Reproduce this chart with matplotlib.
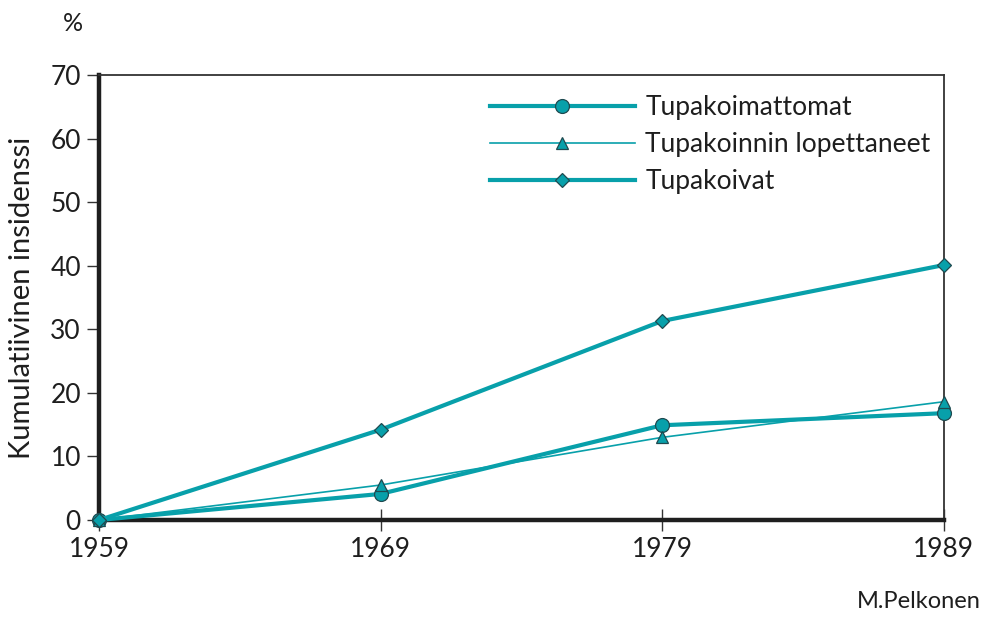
import matplotlib
matplotlib.use("Agg")
import matplotlib.pyplot as plt

plt.rcParams['font.family'] = ['Lato', 'DejaVu Sans']

years = [1959, 1969, 1979, 1989]
tupakoimattomat = [0, 4.1, 14.9, 16.8]
lopettaneet = [0, 5.5, 13.0, 18.6]
tupakoivat = [0, 14.2, 31.3, 40.1]
yticks = [0, 10, 20, 30, 40, 50, 60, 70]

teal = '#08a0aa'
edge = '#1f4a50'

fig = plt.figure(figsize=(9.85, 6.25), dpi=100)
ax = fig.add_axes([0.1005, 0.168, 0.8575, 0.712])

ax.plot(years, tupakoimattomat, color=teal, lw=3.0, marker='o', ms=10,
        mfc=teal, mec=edge, mew=0.9, label='Tupakoimattomat', zorder=3, clip_on=False)
ax.plot(years, lopettaneet, color=teal, lw=1.2, marker='^', ms=8.5,
        mfc=teal, mec=edge, mew=0.9, label='Tupakoinnin lopettaneet', zorder=4, clip_on=False)
ax.plot(years, tupakoivat, color=teal, lw=3.0, marker='D', ms=7.5,
        mfc=teal, mec=edge, mew=0.9, label='Tupakoivat', zorder=5, clip_on=False)

ax.set_xlim(1959, 1989)
ax.set_ylim(0, 70)
ax.set_xticks(years)
ax.set_yticks(yticks)

for s in ['left', 'bottom']:
    ax.spines[s].set_linewidth(3.2)
    ax.spines[s].set_color('#1e1e1e')
    ax.spines[s].set_zorder(2)
for s in ['top', 'right']:
    ax.spines[s].set_linewidth(1.3)
    ax.spines[s].set_color('#333333')
    ax.spines[s].set_zorder(2)

ax.tick_params(axis='x', direction='inout', length=16, width=1.0, color='#333333',
               labelsize=19, pad=4)
ax.tick_params(axis='y', direction='out', length=9, width=1.0, color='#333333',
               labelsize=19, pad=4)
for lbl in ax.get_xticklabels() + ax.get_yticklabels():
    lbl.set_color('#1e1e1e')

ax.set_ylabel('Kumulatiivinen insidenssi', fontsize=21, color='#1e1e1e', labelpad=11)
fig.text(0.074, 0.962, '%', fontsize=18, ha='center', va='center', color='#1e1e1e')
fig.text(0.996, 0.02, 'M.Pelkonen', fontsize=17, ha='right', va='bottom', color='#1e1e1e')

leg = ax.legend(loc='upper right', bbox_to_anchor=(0.997, 0.978), frameon=False,
                fontsize=19, handlelength=5.5, handletextpad=0.4,
                labelspacing=0.45, borderaxespad=0)
for t in leg.get_texts():
    t.set_color('#1e1e1e')

fig.savefig('out.png', dpi=100)
